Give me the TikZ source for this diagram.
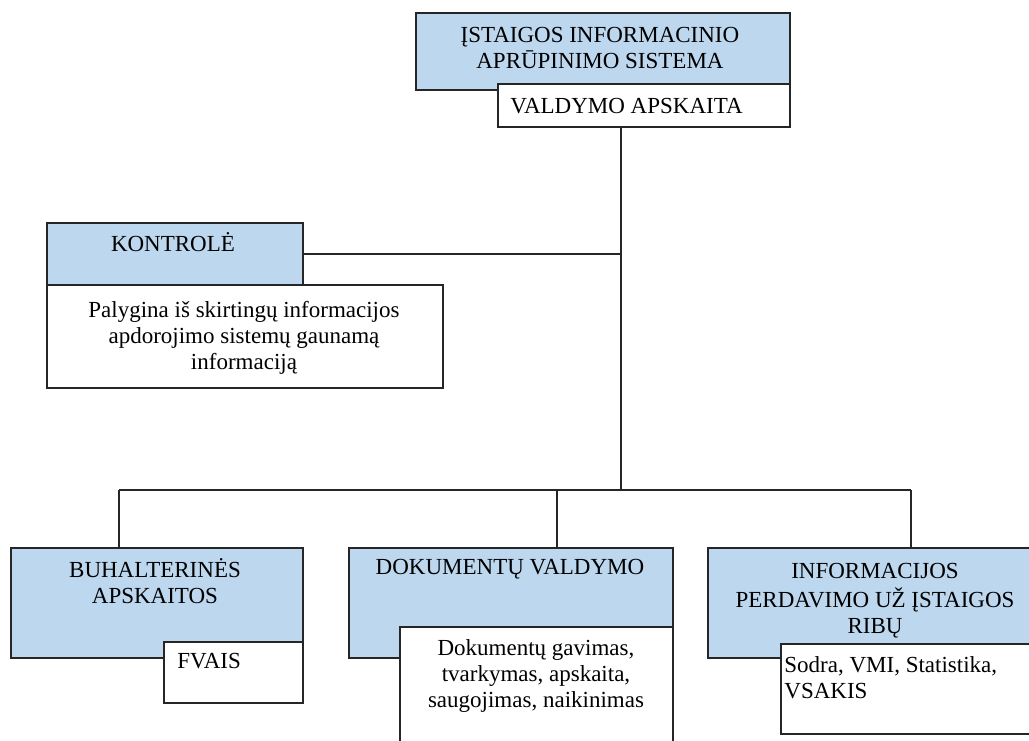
\documentclass[tikz,border=0pt]{standalone}
\usepackage{fontspec}
\setmainfont{Liberation Serif}
\usepackage{tikz}
\definecolor{boxblue}{HTML}{BDD7EE}
\def\bluebox{\node[draw=black!85, fill=boxblue, line width=0.9pt, anchor=north west, inner sep=0pt]}
\def\whitebox{\node[draw=black!85, fill=white, line width=0.9pt, anchor=north west, inner sep=0pt]}

\begin{document}
\begin{tikzpicture}[x=0.5pt,y=-0.5pt,
  txt/.style={inner sep=0pt, align=center, anchor=north, font=\fontsize{11.5}{13}\selectfont},
  onetxt/.style={inner sep=0pt, anchor=base, font=\fontsize{11.5}{13}\selectfont},
  wire/.style={draw=black!85, line width=0.7pt}]
\clip (0,0) rectangle (1029,740);
\fill[white] (0,0) rectangle (1029,740);
% top
\bluebox[minimum width=187pt, minimum height=38.5pt] (sys) at (415,12) {};
\whitebox[minimum width=146pt, minimum height=21.5pt] (valdymo) at (497,83) {};
\node[txt] (sysT) at (600,23.8) {\strut ĮSTAIGOS INFORMACINIO\\APRŪPINIMO SISTEMA};
\node[onetxt, anchor=base west] (valdymoT) at (510,113) {VALDYMO APSKAITA};
% left side
\bluebox[minimum width=128pt, minimum height=31pt] (kontrole) at (46,222) {};
\whitebox[minimum width=198pt, minimum height=51.5pt] (palygina) at (46,284) {};
\node[onetxt] (kontroleT) at (173,251) {KONTROLĖ};
\node[txt] (palyginaT) at (244,298.8) {\strut Palygina iš skirtingų informacijos\\apdorojimo sistemų gaunamą\\informaciją};
% bottom row
\bluebox[minimum width=146pt, minimum height=55pt] (buh) at (10,547) {};
\whitebox[minimum width=69.5pt, minimum height=30.5pt] (fvais) at (163,641) {};
\node[txt] (buhT) at (155,557.8) {\strut BUHALTERINĖS\\APSKAITOS};
\node[onetxt, anchor=base west] (fvaisT) at (177,668) {FVAIS};
\bluebox[minimum width=162pt, minimum height=55pt] (dok) at (348,547) {};
\whitebox[minimum width=136.5pt, minimum height=65pt] (dokw) at (399,626) {};
\node[onetxt] (dokT) at (510,574) {DOKUMENTŲ VALDYMO};
\node[txt] (dokwT) at (536,636.8) {\strut Dokumentų gavimas,\\tvarkymas, apskaita,\\saugojimas, naikinimas};
\bluebox[minimum width=168pt, minimum height=55pt] (info) at (707,547) {};
\whitebox[minimum width=132pt, minimum height=45pt] (infow) at (780,643) {};
\node[txt] (infoT) at (875,559.8) {\strut INFORMACIJOS\\PERDAVIMO UŽ ĮSTAIGOS\\RIBŲ};
\node[txt, align=left, anchor=north west] (infowT) at (784,653.8) {\strut Sodra, VMI, Statistika,\\VSAKIS};
% connectors
\coordinate (hub) at (621,490);
\coordinate (busL) at (119,490);
\coordinate (busM) at (557,490);
\coordinate (busR) at (911,490);
\draw[wire] (valdymo.south -| hub) -- (hub);
\draw[wire] (kontrole.east) -- (kontrole.east -| hub);
\draw[wire] (busL) -- (busR);
\draw[wire] (busL) -- (busL |- buh.north);
\draw[wire] (busM) -- (busM |- dok.north);
\draw[wire] (busR) -- (busR |- info.north);
\end{tikzpicture}
\end{document}
